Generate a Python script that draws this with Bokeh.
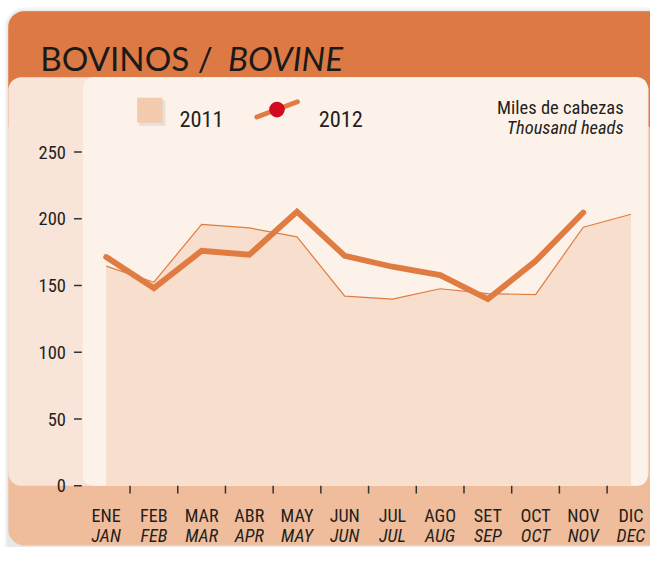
from bokeh.plotting import figure
from bokeh.models import Range1d
from bokeh.core.properties import value
from bokeh.embed import file_html
from bokeh.resources import INLINE

# ---------------- data ----------------
months_es = ["ENE", "FEB", "MAR", "ABR", "MAY", "JUN", "JUL", "AGO", "SET", "OCT", "NOV", "DIC"]
months_en = ["JAN", "FEB", "MAR", "APR", "MAY", "JUN", "JUL", "AUG", "SEP", "OCT", "NOV", "DEC"]
vals_2011 = [164.6, 152.5, 195.9, 193.2, 186.5, 142.1, 139.9, 147.6, 144.0, 143.2, 193.7, 203.4]
vals_2012 = [171.4, 148.1, 176.0, 173.1, 205.4, 172.3, 164.1, 157.8, 139.9, 168.3, 204.7]
y_ticks = [0, 50, 100, 150, 200, 250]
title_es = "BOVINOS /"
title_en = "BOVINE"
unit_es = "Miles de cabezas"
unit_en = "Thousand heads"
series_names = ["2011", "2012"]

# ---------------- layout ----------------
# The design is laid out on a 666x563 grid and squeezed into a 650x547 canvas.
REF_W, REF_H = 666, 563
W, H = 650, 547
S = W / REF_W           # screen-size scale for fonts / widths
X0, KX = 108.3, 48.88   # grid x of first month, px per month
Y0, KY = 499.5, 1.374   # grid y of value 0, px per unit


def dx(px):
    return (px - X0) / KX


def dy(py):
    return (Y0 - py) / KY


def fs(px):
    return "%.1fpx" % (px * S)


ORANGE = "#DD7944"
BAND = "#F0BD9C"
LEFT_PANEL = "#F8E4D8"
INNER_PANEL = "#FDF2EA"
AREA = "#F7DECD"
LINE = "#E07B41"
SWATCH = "#F4CAAE"
RED = "#D10A22"
TXT = "#231F20"
NARROW = value("Roboto Condensed, Liberation Sans Narrow, Roboto")

p = figure(width=W, height=H, output_backend="svg", toolbar_location=None,
           x_range=Range1d(dx(0), dx(REF_W)), y_range=Range1d(dy(REF_H), dy(0)),
           x_axis_location=None, y_axis_location=None, min_border=0,
           outline_line_color=None, background_fill_color="white",
           border_fill_color="white")
p.grid.visible = False

# card shadow + card
p.quad(left=dx(4), right=dx(720), top=dy(7), bottom=dy(620), fill_color="#000000",
       fill_alpha=0.04, line_color=None, border_radius=20)
p.quad(left=dx(6.5), right=dx(720), top=dy(9.5), bottom=dy(620), fill_color="#000000",
       fill_alpha=0.05, line_color=None, border_radius=17)
p.quad(left=dx(8), right=dx(720), top=dy(11), bottom=dy(561), fill_color=BAND,
       line_color=None, border_radius=16)
p.quad(left=dx(8), right=dx(720), top=dy(11), bottom=dy(130), fill_color=ORANGE,
       line_color=None, border_radius=(16, 16, 0, 0))
# panels
p.quad(left=dx(8), right=dx(664), top=dy(79), bottom=dy(499.5), fill_color=LEFT_PANEL,
       line_color=None, border_radius=13)
p.quad(left=dx(84.3), right=dx(663), top=dy(79), bottom=dy(499.5), fill_color=INNER_PANEL,
       line_color=None, border_radius=10)

idx11 = list(range(len(vals_2011)))
idx12 = list(range(len(vals_2012)))

# 2011 area + edge
p.varea(x=idx11, y1=[0] * len(vals_2011), y2=vals_2011, fill_color=AREA)
p.line(idx11, vals_2011, line_color=LINE, line_width=1.2)
# 2012 line
p.line(idx12, vals_2012, line_color=LINE, line_width=6 * S, line_join="miter", line_cap="round")

# y ticks and labels
p.segment(x0=[dx(75.3)] * len(y_ticks), x1=[dx(83.3)] * len(y_ticks), y0=y_ticks, y1=y_ticks,
          line_color="#333333", line_width=1.5)
p.text(x=[dx(67)] * len(y_ticks), y=y_ticks, text=[str(t) for t in y_ticks],
       text_align="right", text_baseline="middle", text_font=NARROW,
       text_font_size=fs(19), text_color=TXT)

# x ticks (between months) and labels
bounds = [i + 0.5 for i in range(len(months_es) - 1)]
p.segment(x0=bounds, x1=bounds, y0=[0] * len(bounds), y1=[dy(507.5)] * len(bounds),
          line_color="#333333", line_width=1.5)
p.text(x=list(range(12)), y=[dy(530)] * 12, text=months_es, text_align="center",
       text_baseline="alphabetic", text_font=NARROW, text_font_size=fs(18.5), text_color=TXT)
p.text(x=list(range(12)), y=[dy(550.5)] * 12, text=months_en, text_align="center",
       text_baseline="alphabetic", text_font=NARROW, text_font_size=fs(18.5),
       text_font_style="italic", text_color=TXT)

# title
p.text(x=[dx(40.7)], y=[dy(59)], text=[title_es], text_align="left", text_baseline="alphabetic",
       text_font=value("Lato"), text_font_size=fs(34), text_color="#1A1A1A")
p.text(x=[dx(233)], y=[dy(59)], text=[title_en], text_align="left", text_baseline="alphabetic",
       text_font=value("Lato"), text_font_size=fs(34), text_font_style="italic",
       text_color="#1A1A1A")

# units
p.text(x=[dx(638.5)], y=[dy(111)], text=[unit_es], text_align="right", text_baseline="alphabetic",
       text_font=NARROW, text_font_size=fs(19), text_color=TXT)
p.text(x=[dx(638.5)], y=[dy(131.7)], text=[unit_en], text_align="right",
       text_baseline="alphabetic", text_font=NARROW, text_font_size=fs(19),
       text_font_style="italic", text_color=TXT)

# legend
p.quad(left=[dx(142)], right=[dx(169)], top=[dy(103)], bottom=[dy(129)], fill_color="#888888",
       fill_alpha=0.18, line_color=None)
p.quad(left=[dx(140)], right=[dx(166)], top=[dy(100)], bottom=[dy(125.7)], fill_color=SWATCH,
       line_color=None)
p.text(x=[dx(183.3)], y=[dy(122.3)], text=[series_names[0]], text_baseline="alphabetic",
       text_font=NARROW, text_font_size=fs(23), text_color=TXT)
p.segment(x0=[dx(262.7)], y0=[dy(120)], x1=[dx(304.3)], y1=[dy(104.3)], line_color=LINE,
          line_width=5 * S, line_cap="round")
p.scatter(x=[dx(283.3)], y=[dy(112.3)], size=16 * S, fill_color=RED, line_color=None)
p.text(x=[dx(326)], y=[dy(122.3)], text=[series_names[1]], text_baseline="alphabetic",
       text_font=NARROW, text_font_size=fs(23), text_color=TXT)

open("out.html", "w").write(file_html(p, INLINE))
